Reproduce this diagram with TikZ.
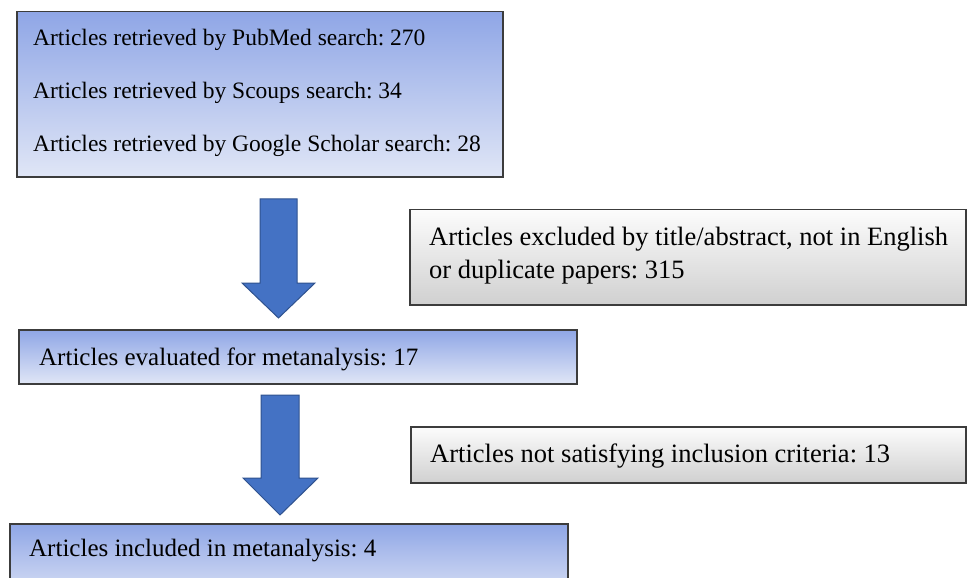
\documentclass[tikz,border=0pt]{standalone}
\usepackage{fontspec}
\setmainfont{Liberation Serif}
\frenchspacing
\definecolor{blueTop}{RGB}{143,166,230}
\definecolor{blueBot}{RGB}{224,230,246}
\definecolor{grayTop}{RGB}{252,252,252}
\definecolor{grayBot}{RGB}{208,208,208}
\definecolor{boxLine}{RGB}{60,60,60}
\definecolor{arrowFill}{RGB}{68,114,196}
\definecolor{arrowLine}{RGB}{47,82,143}
\begin{document}
\begin{tikzpicture}[x=1bp,y=-1bp,
  bluebox/.style={draw=boxLine, line width=1.5bp, top color=blueTop, bottom color=blueBot, anchor=north west, inner sep=0pt},
  graybox/.style={draw=boxLine, line width=1.5bp, top color=grayTop, bottom color=grayBot, anchor=north west, inner sep=0pt},
  txt/.style={anchor=base west, inner sep=0pt, font=\fontsize{23.5bp}{28bp}\selectfont\frenchspacing},
  txtb/.style={txt, font=\fontsize{25bp}{30bp}\selectfont\frenchspacing},
  txtg/.style={txt, font=\fontsize{26.5bp}{32bp}\selectfont\frenchspacing},
  blockarrow/.style={fill=arrowFill, draw=arrowLine, line width=1bp, line join=miter}]
\useasboundingbox (0,0) rectangle (967,578);
\clip (0,0) rectangle (967,578);
\fill[white] (0,0) rectangle (967,578);
% boxes
\node[bluebox, minimum width=486bp, minimum height=165bp] (b1) at (16,11) {};
\node[bluebox, minimum width=558bp, minimum height=54bp] (b2) at (18,329) {};
\node[bluebox, minimum width=558bp, minimum height=80bp] (b3) at (9,523) {};
\node[graybox, minimum width=556bp, minimum height=95bp] (g1) at (409,209) {};
\node[graybox, minimum width=555bp, minimum height=56bp] (g2) at (410,426) {};
% texts
\node[txt] (t1a) at (33,46) {Articles retrieved by PubMed search: 270};
\node[txt] (t1b) at (33,99) {Articles retrieved by Scoups search: 34};
\node[txt] (t1c) at (33,152) {Articles retrieved by Google Scholar search: 28};
\node[txtb] (t2) at (39,365) {Articles evaluated for metanalysis: 17};
\node[txtb] (t3) at (29,556) {Articles included in metanalysis: 4};
\node[txtg] (g1a) at (429,246) {Articles excluded by title/abstract, not in English};
\node[txtg] (g1b) at (429,279) {or duplicate papers: 315};
\node[txtg] (g2t) at (430,462) {Articles not satisfying inclusion criteria: 13};
% block arrows
\draw[blockarrow] (260,199) -- (297,199) -- (297,283) -- (315,283) -- (278.5,318) -- (242,283) -- (260,283) -- cycle;
\draw[blockarrow] (261,395) -- (299,395) -- (299,478) -- (318,478) -- (280,515) -- (243,478) -- (261,478) -- cycle;
\end{tikzpicture}
\end{document}
